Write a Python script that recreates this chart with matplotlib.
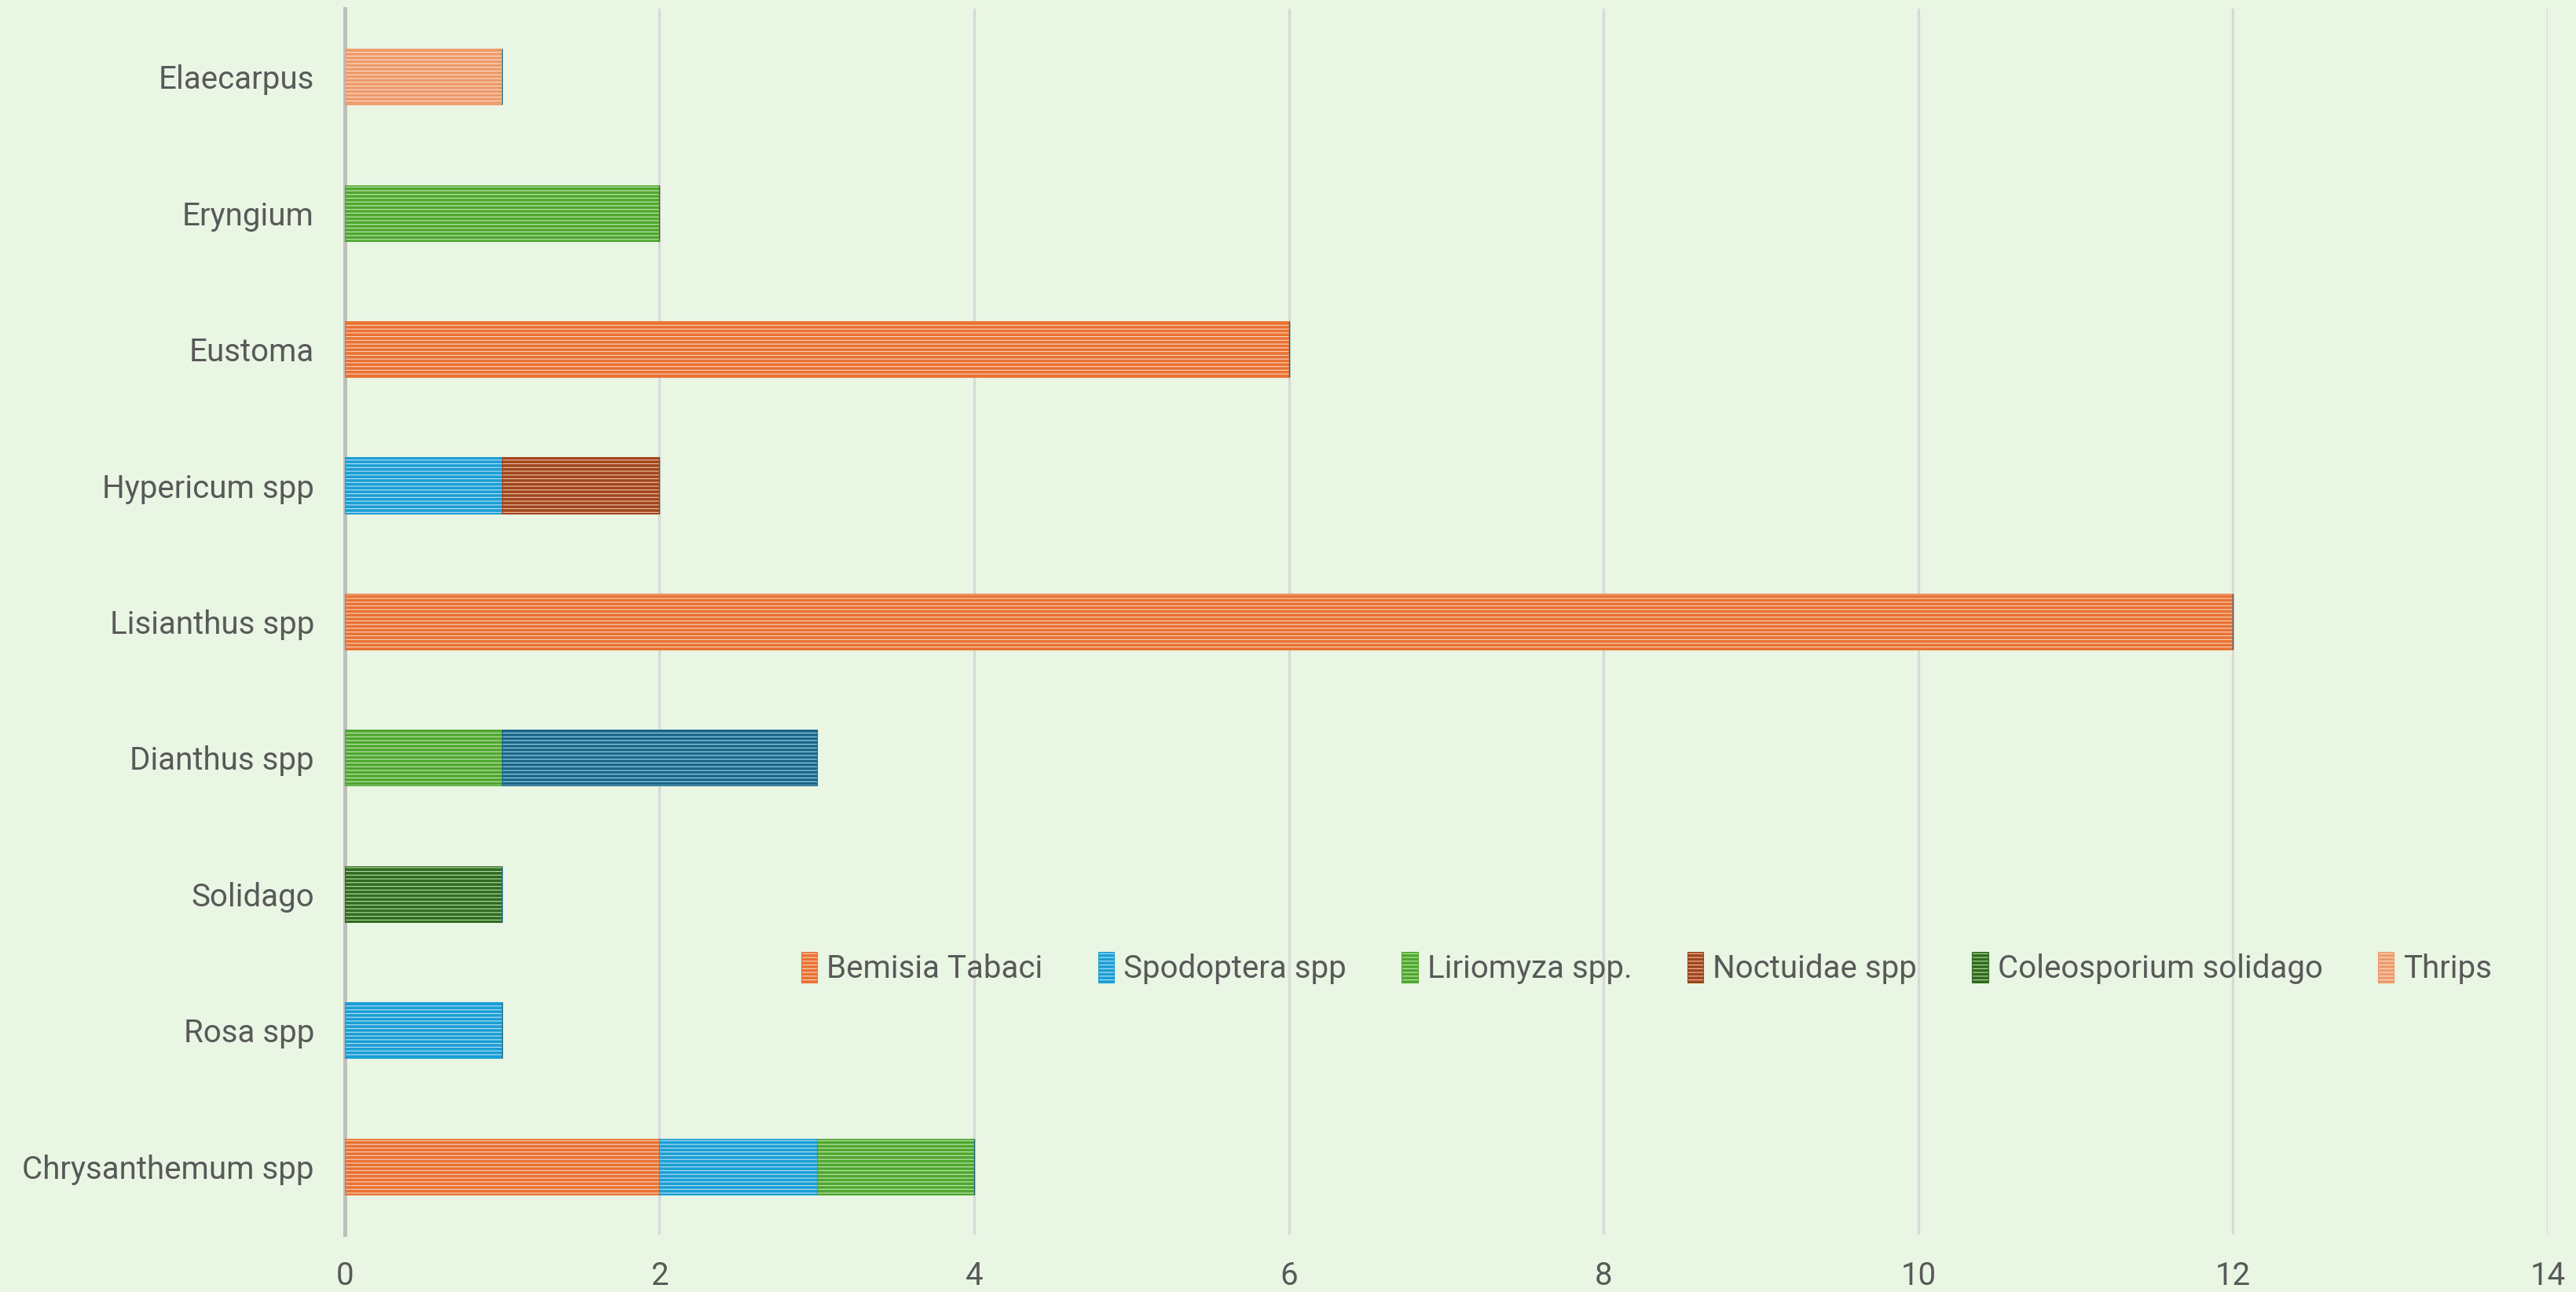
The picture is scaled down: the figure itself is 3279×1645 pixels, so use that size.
import matplotlib
matplotlib.use("Agg")
import matplotlib.pyplot as plt
from matplotlib.patches import Patch
import numpy as np

categories = ["Chrysanthemum spp", "Rosa spp", "Solidago", "Dianthus spp",
              "Lisianthus spp", "Hypericum spp", "Eustoma", "Eryngium", "Elaecarpus"]

bemisia_tabaci = [2, 0, 0, 0, 12, 0, 6, 0, 0]
spodoptera     = [1, 1, 0, 0, 0, 1, 0, 0, 0]
liriomyza      = [1, 0, 0, 1, 0, 0, 0, 2, 0]
noctuidae      = [0, 0, 0, 0, 0, 1, 0, 0, 0]
coleosporium   = [0, 0, 1, 0, 0, 0, 0, 0, 0]
thrips         = [0, 0, 0, 0, 0, 0, 0, 0, 1]
unlabelled     = [0, 0, 0, 2, 0, 0, 0, 0, 0]

series_names = ["Bemisia Tabaci", "Spodoptera spp", "Liriomyza spp.", "Noctuidae spp",
                "Coleosporium solidago", "Thrips", "_nolegend_"]
series_values = [bemisia_tabaci, spodoptera, liriomyza, noctuidae, coleosporium, thrips, unlabelled]
series_colors = ["#E97132", "#1A9ED5", "#4EA72E", "#A0451C", "#2F6B1E", "#EE9A6A", "#1A6688"]
series_light = ["#F9D3BC", "#B5E0F3", "#C3E5B3", "#EDBFA5", "#B5D6A8", "#FBDCC8", "#9DD3E8"]

plt.rcParams['font.family'] = ['Roboto', 'DejaVu Sans']
plt.rcParams['hatch.linewidth'] = 1.3

bg = "#EAF6E4"
fig = plt.figure(figsize=(16.4, 8.225), dpi=200, facecolor=bg)
ax = fig.add_axes([0.1338, 0.0444, 0.8549, 0.9489])
ax.set_facecolor(bg)

y = np.arange(len(categories))
left = np.zeros(len(categories))
for name, vals, c, lc in zip(series_names, series_values, series_colors, series_light):
    vals = np.array(vals, dtype=float)
    ax.barh(y, vals, left=left, height=0.41, color=lc, edgecolor=c,
            linewidth=0.4, hatch='-------', label=name, zorder=3)
    left += vals

ax.set_xlim(0, 14)
ax.set_ylim(-0.5, 8.5)
ax.set_xticks(np.arange(0, 15, 2))
ax.set_yticks(y)
ax.set_yticklabels(categories)
ax.tick_params(axis='both', length=0, labelsize=14.5, labelcolor="#595959")
ax.tick_params(axis='y', pad=14)
ax.tick_params(axis='x', pad=12)
ax.grid(axis='x', color="#D9D9D9", linewidth=1.2, zorder=0)
ax.set_axisbelow(True)
for s in ['top', 'right', 'bottom']:
    ax.spines[s].set_visible(False)
ax.spines['left'].set_color("#BFBFBF")
ax.spines['left'].set_linewidth(1.8)

handles = [Patch(facecolor=lc, edgecolor=c, hatch='-------', linewidth=0.4, label=n)
           for n, c, lc in zip(series_names[:6], series_colors[:6], series_light[:6])]
leg = ax.legend(handles=handles, loc='center', bbox_to_anchor=(0.591, 0.2175), ncol=6,
                frameon=False, fontsize=14.5, handlelength=0.5, handleheight=1.1,
                handletextpad=0.3, columnspacing=1.75, labelcolor="#595959")

fig.savefig("out.png", dpi=200, facecolor=bg)
